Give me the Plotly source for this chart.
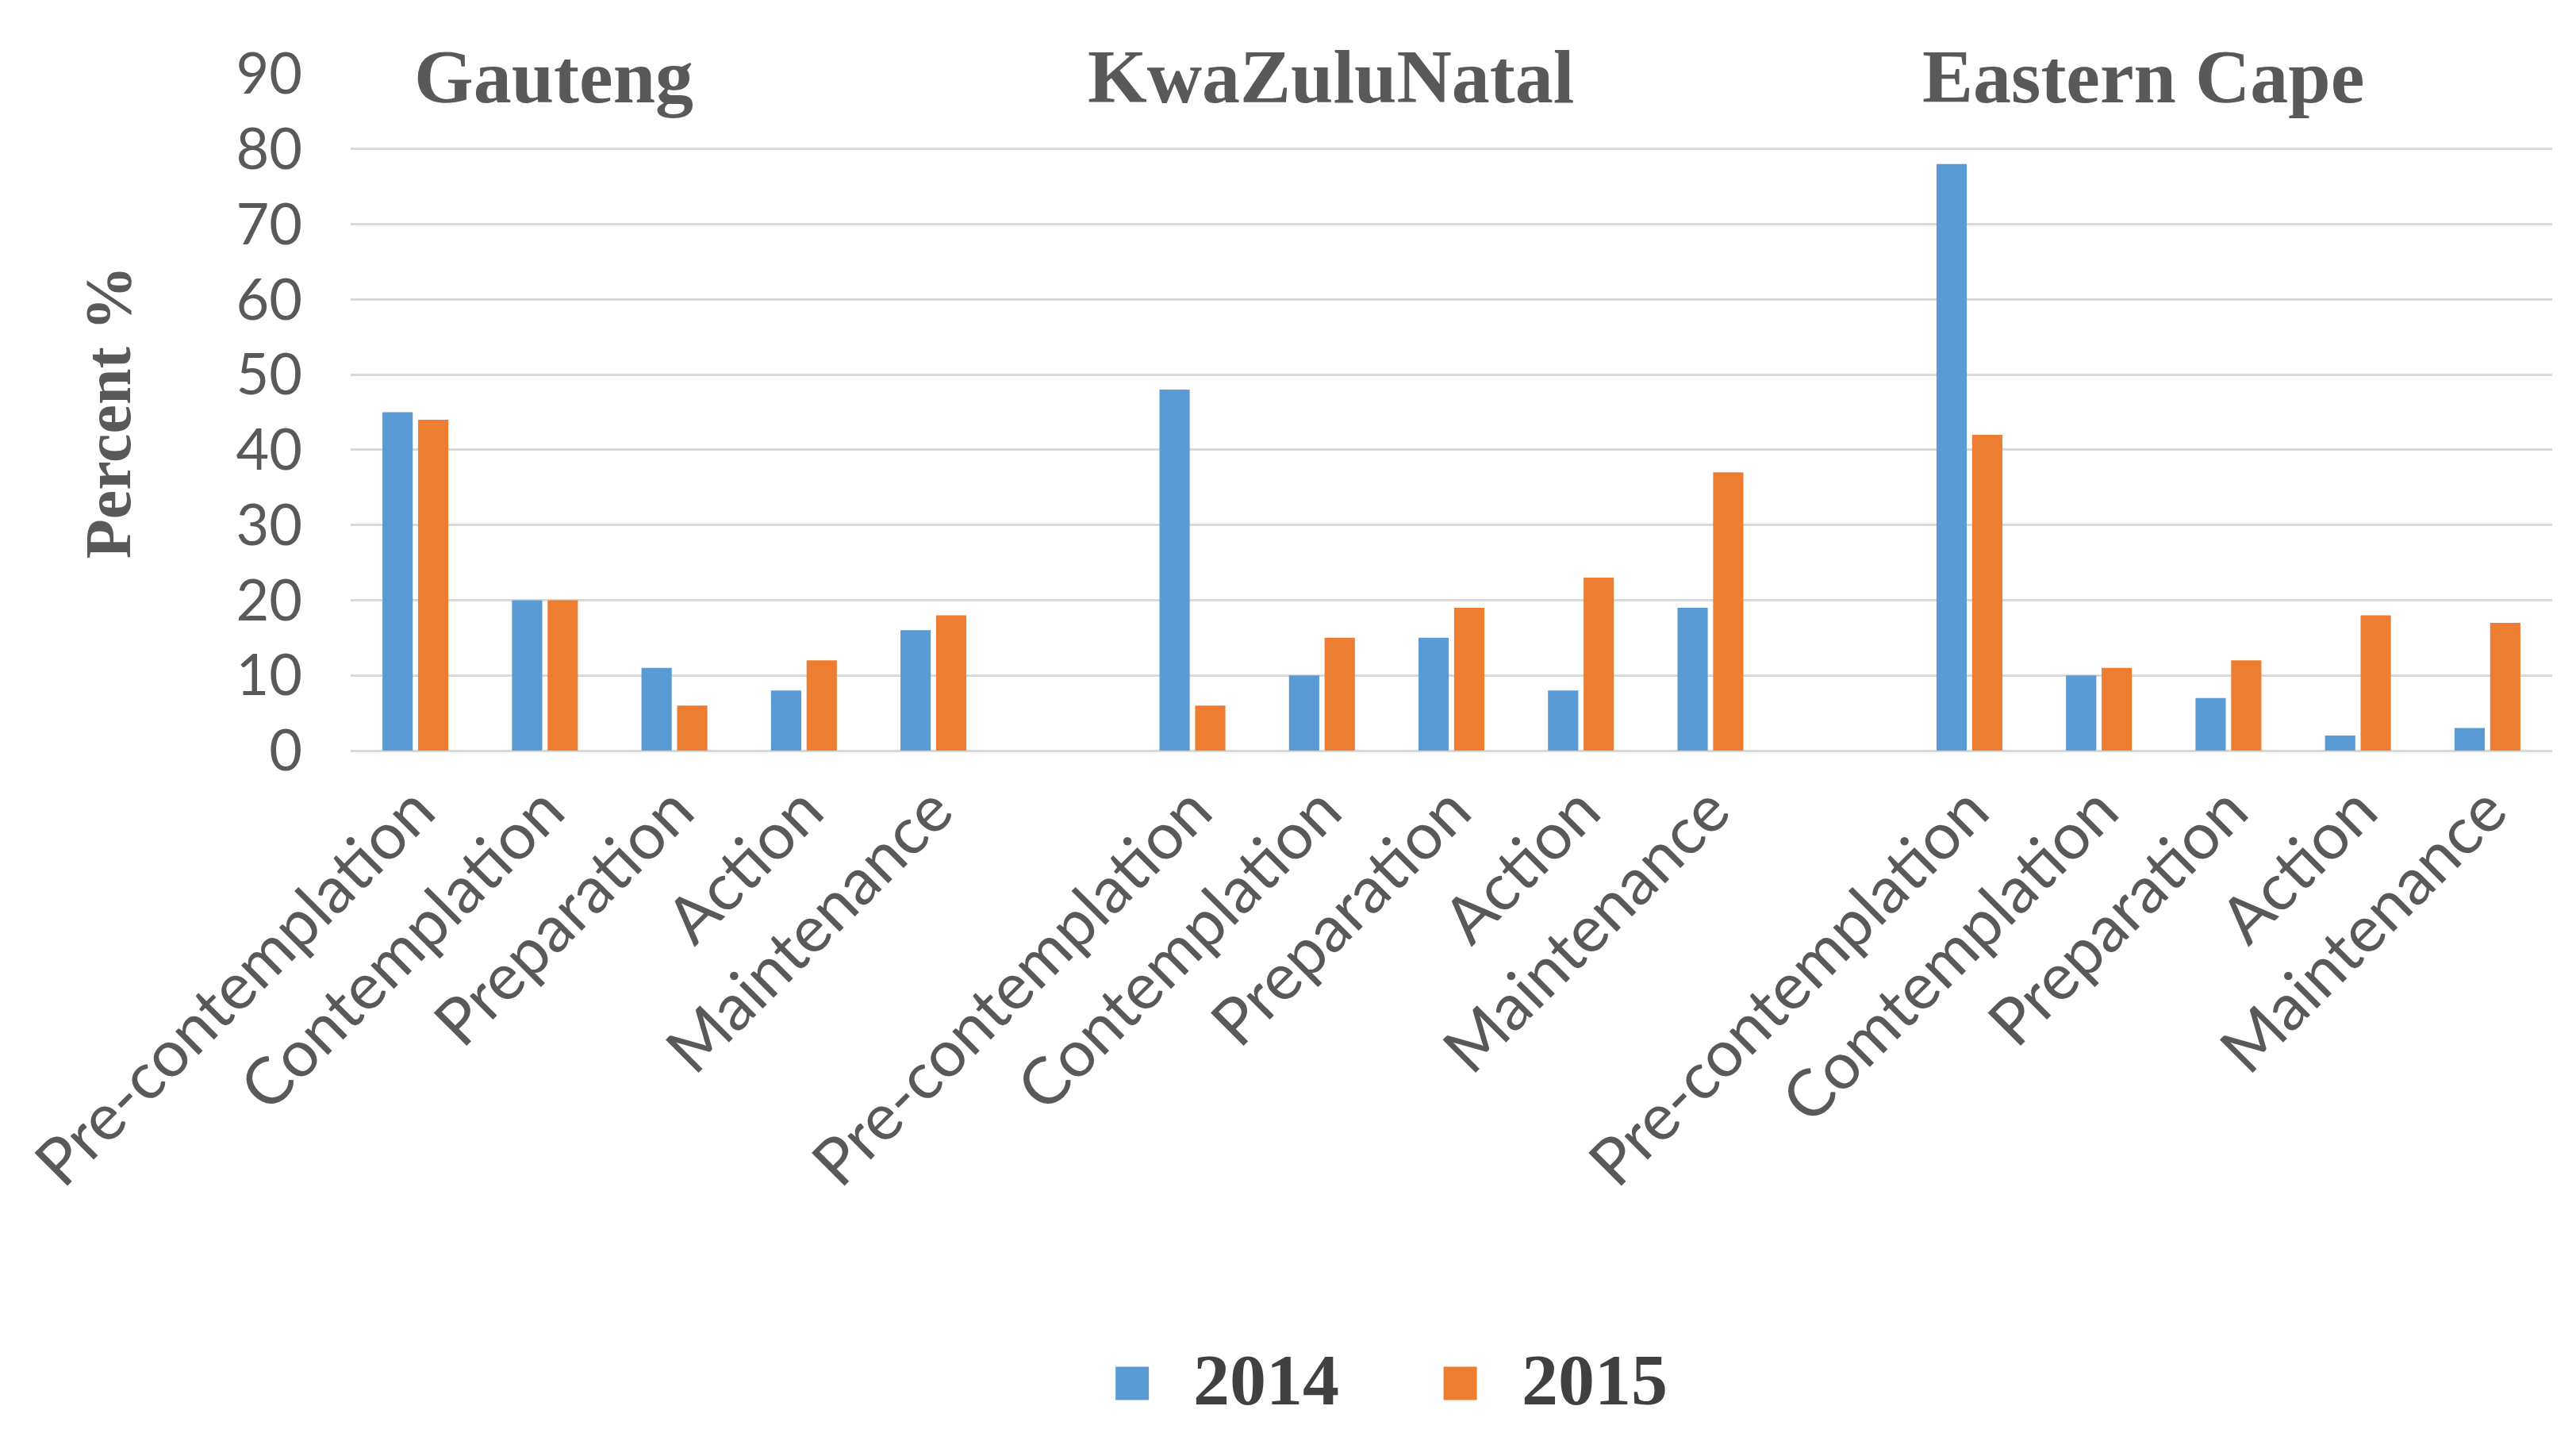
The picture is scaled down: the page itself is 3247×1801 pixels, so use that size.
import plotly.graph_objects as go

# Stades de changement par province, en %
REGIONS = ["Gauteng", "KwaZuluNatal", "Eastern Cape"]
STAGES = [
    ["Pre-contemplation", "Contemplation", "Preparation", "Action", "Maintenance"],
    ["Pre-contemplation", "Contemplation", "Preparation", "Action", "Maintenance"],
    ["Pre-contemplation", "Comtemplation", "Preparation", "Action", "Maintenance"],
]
YEARS = ["2014", "2015"]

GAUTENG_2014 = [45, 20, 11, 8, 16]
GAUTENG_2015 = [44, 20, 6, 12, 18]
KZN_2014 = [48, 10, 15, 8, 19]
KZN_2015 = [6, 15, 19, 23, 37]
EC_2014 = [78, 10, 7, 2, 3]
EC_2015 = [42, 11, 12, 18, 17]

Y_TICKS = [0, 10, 20, 30, 40, 50, 60, 70, 80, 90]

COLORS = ["#5B9BD5", "#ED7D31"]
TEXT = "#595959"
SANS = "Lato, Carlito, 'Open Sans', sans-serif"
SERIF = "'Liberation Serif', 'DejaVu Serif', serif"

values = {
    "2014": [GAUTENG_2014, KZN_2014, EC_2014],
    "2015": [GAUTENG_2015, KZN_2015, EC_2015],
}

# une case vide entre chaque province
step = len(STAGES[0]) + 1
xpos, xlabels = [], []
for r, stages in enumerate(STAGES):
    for i, s in enumerate(stages):
        xpos.append(r * step + i)
        xlabels.append(s)

fig = go.Figure()
for year, color in zip(YEARS, COLORS):
    y = [v for region in values[year] for v in region]
    fig.add_trace(go.Bar(x=xpos, y=y, name=year, marker_color=color,
                         marker_line_width=0, showlegend=False))

# titres des provinces, un peu à gauche du centre de chaque groupe
title_offset = [-0.93, -0.93, -0.66]
for r, name in enumerate(REGIONS):
    fig.add_annotation(
        x=r * step + 2 + title_offset[r], y=89.6, xref="x", yref="y",
        text=f"<b>{name}</b>", showarrow=False, yanchor="middle",
        font=dict(family=SERIF, size=96, color=TEXT),
    )

# légende faite à la main (carrés plus gros que ceux de plotly)
legend_x = [0.355, 0.504]
for year, color, lx in zip(YEARS, COLORS, legend_x):
    fig.add_shape(type="rect", xref="paper", yref="paper",
                  xsizemode="pixel", ysizemode="pixel",
                  xanchor=lx, yanchor=-0.935, x0=-21, x1=21, y0=-21, y1=21,
                  fillcolor=color, line_width=0)
    fig.add_annotation(x=lx + 0.027, y=-0.93, xref="paper", yref="paper",
                       text=f"<b>{year}</b>", showarrow=False,
                       xanchor="left", yanchor="middle",
                       font=dict(family=SERIF, size=92, color="#404040"))

fig.update_layout(
    width=3247, height=1801,
    margin=dict(l=434, r=38, t=85, b=863),
    plot_bgcolor="white", paper_bgcolor="white",
    barmode="group", bargap=0.45, bargroupgap=0.15,
    showlegend=False,
)
fig.update_xaxes(
    tickvals=xpos, ticktext=xlabels, tickangle=-45,
    range=[-0.5, len(STAGES) * step - 1 - 0.5],
    showgrid=False, zeroline=False, showline=False, ticks="",
    ticklabeloverflow="allow", ticklabelstandoff=10,
    tickfont=dict(family=SANS, size=82, color=TEXT),
)
fig.update_yaxes(
    range=[0, 90], tickvals=Y_TICKS,
    showgrid=True, gridcolor="#D9D9D9", gridwidth=3,
    zeroline=True, zerolinecolor="#D9D9D9", zerolinewidth=3,
    ticks="", ticklabelstandoff=60,
    tickfont=dict(family=SANS, size=72, color=TEXT),
    title=dict(text="<b>Percent %</b>", standoff=105,
               font=dict(family=SERIF, size=82, color=TEXT)),
)

fig.write_html("out.html")
